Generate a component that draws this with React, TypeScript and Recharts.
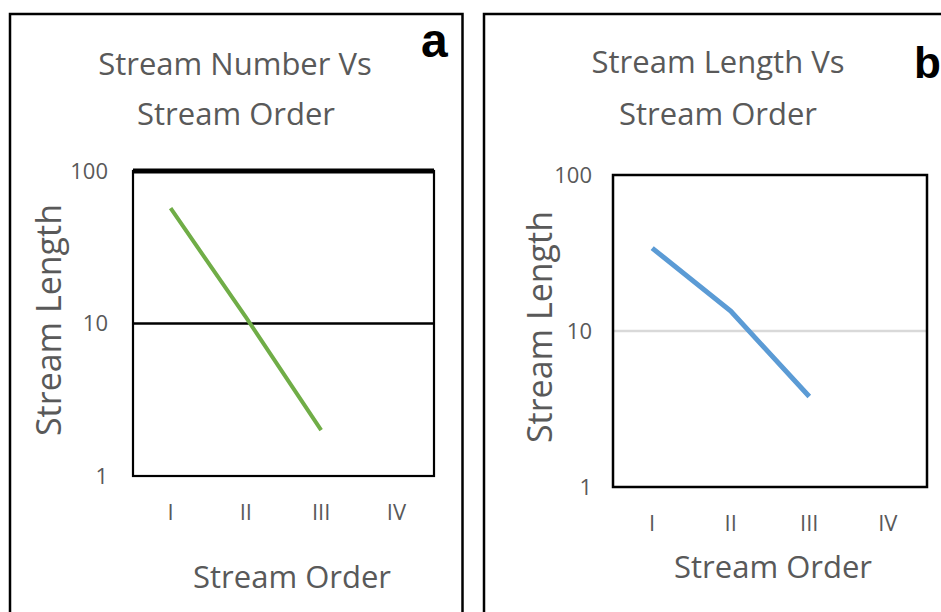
import { LineChart, Line, XAxis, YAxis, ReferenceLine } from "recharts"

const orders = ["I", "II", "III", "IV"]
const streamNumber = [57, 11, 2, null]
const streamLength = [34, 13.4, 3.8, null]
const yTicks = [1, 10, 100]

const dataA = orders.map((order, i) => ({ order, value: streamNumber[i] }))
const dataB = orders.map((order, i) => ({ order, value: streamLength[i] }))

const FONT = "'Open Sans', 'DejaVu Sans', sans-serif"
const NARROW = "'Liberation Sans Narrow', 'Open Sans', sans-serif"
const GREY = "#595959"

const tickStyle = { fontSize: 22, fill: GREY, fontFamily: NARROW }

export default function App() {
  return (
    <div style={{ position: "absolute", left: 0, top: 0, width: 941, height: 612, overflow: "hidden", background: "#fff" }}>
      {/* panel a */}
      <div style={{ position: "absolute", left: 10, top: 0 }}>
        <LineChart width={452} height={612} data={dataA} margin={{ top: 171, right: 28, bottom: 96, left: 0 }}>
          <XAxis dataKey="order" height={40} axisLine={false} tickLine={false} tickSize={0} tickMargin={28} interval={0}
            padding={{ left: 37.6, right: 37.6 }} fontSize={22} tick={tickStyle} />
          <YAxis type="number" scale="log" domain={[1, 100]} ticks={yTicks} allowDataOverflow width={123}
            axisLine={false} tickLine={false} tickSize={0} tickMargin={25} fontSize={22} tick={tickStyle} />
          <ReferenceLine y={10} stroke="#000" strokeWidth={2.5} />
          <Line type="linear" dataKey="value" stroke="#70AD47" strokeWidth={4} dot={false} isAnimationActive={false} />
        </LineChart>
      </div>

      {/* panel b */}
      <div style={{ position: "absolute", left: 484, top: 0 }}>
        <LineChart width={457} height={612} data={dataB} margin={{ top: 175, right: 14, bottom: 85, left: 0 }}>
          <XAxis dataKey="order" height={40} axisLine={false} tickLine={false} tickSize={0} tickMargin={28} interval={0}
            padding={{ left: 39.2, right: 39.2 }} fontSize={22} tick={tickStyle} />
          <YAxis type="number" scale="log" domain={[1, 100]} ticks={yTicks} allowDataOverflow width={129}
            axisLine={false} tickLine={false} tickSize={0} tickMargin={21} fontSize={22} tick={tickStyle} />
          <ReferenceLine y={10} stroke="#D9D9D9" strokeWidth={2.5} />
          <Line type="linear" dataKey="value" stroke="#5B9BD5" strokeWidth={5} dot={false} isAnimationActive={false} />
        </LineChart>
      </div>

      {/* frames and text */}
      <svg width={941} height={612} style={{ position: "absolute", left: 0, top: 0, pointerEvents: "none" }}>
        <rect x={10} y={14} width={452.5} height={700} fill="none" stroke="#000" strokeWidth={2.5} />
        <rect x={484} y={14} width={500} height={700} fill="none" stroke="#000" strokeWidth={2.5} />

        {/* plot area borders */}
        <rect x={133} y={171} width={301} height={305} fill="none" stroke="#000" strokeWidth={2.2} />
        <line x1={133} y1={171} x2={434} y2={171} stroke="#000" strokeWidth={5} />
        <rect x={613} y={175} width={314} height={312} fill="none" stroke="#000" strokeWidth={2.5} />

        <g fontFamily={FONT} fill={GREY} textAnchor="middle">
          <text x={235} y={75} fontSize={31}>Stream Number Vs</text>
          <text x={236} y={125} fontSize={31}>Stream Order</text>
          <text x={292} y={588} fontSize={31}>Stream Order</text>
          <text x={61} y={320} fontSize={34} transform="rotate(-90 61 320)">Stream Length</text>

          <text x={718} y={73} fontSize={31}>Stream Length Vs</text>
          <text x={718} y={125} fontSize={31}>Stream Order</text>
          <text x={773} y={578} fontSize={31}>Stream Order</text>
          <text x={552} y={327} fontSize={34} transform="rotate(-90 552 327)">Stream Length</text>
        </g>

        <g fontFamily="'Liberation Sans', Arial, sans-serif" fontWeight="bold" fill="#000">
          <text x={421} y={57} fontSize={48}>a</text>
          <text x={914} y={78} fontSize={44}>b</text>
        </g>
      </svg>
    </div>
  )
}
